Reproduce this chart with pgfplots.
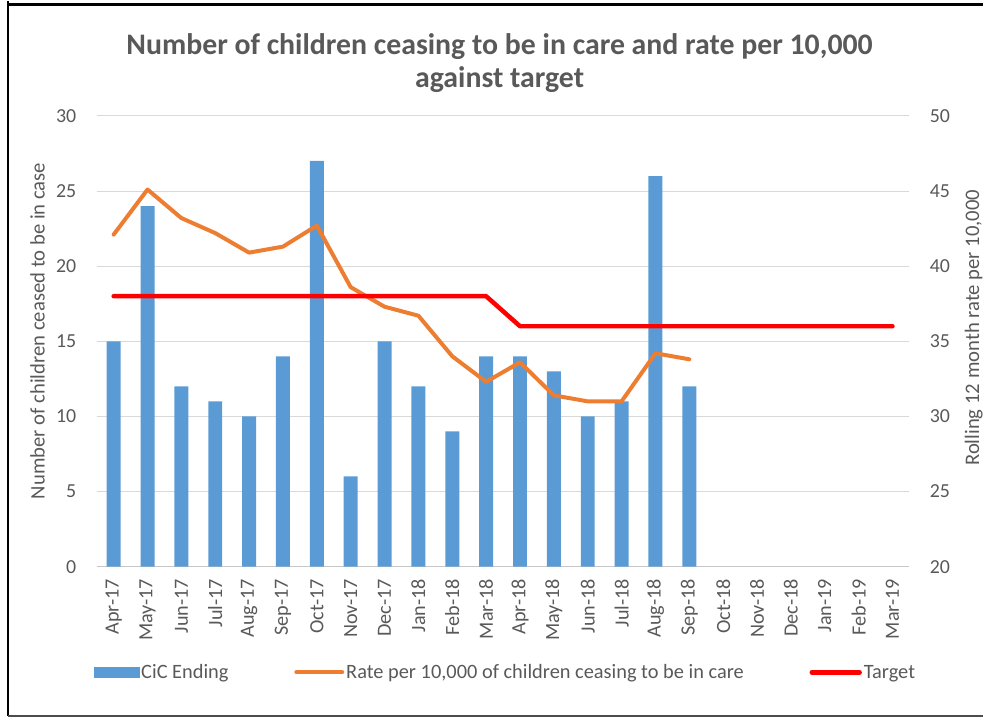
\documentclass[border=0pt]{standalone}
\usepackage{fontspec}
\setmainfont{Carlito}
\usepackage{pgfplots}
\pgfplotsset{compat=1.18}

\definecolor{barblue}{HTML}{5B9BD5}
\definecolor{rateorange}{HTML}{ED7D31}
\definecolor{txtgrey}{HTML}{595959}
\definecolor{gridgrey}{HTML}{D9D9D9}

% months Apr-17 .. Mar-19 at x = 0..23
\pgfplotstableread{
x  cic
0  15
1  24
2  12
3  11
4  10
5  14
6  27
7  6
8  15
9  12
10 9
11 14
12 14
13 13
14 10
15 11
16 26
17 12
}\cicdata

\pgfplotstableread{
x  rate
0  42.1
1  45.1
2  43.2
3  42.2
4  40.9
5  41.3
6  42.7
7  38.6
8  37.3
9  36.7
10 34.0
11 32.3
12 33.6
13 31.4
14 31.0
15 31.0
16 34.2
17 33.8
}\ratedata

\pgfplotstableread{
x  target
0  38
11 38
12 36
23 36
}\targetdata

\begin{document}
\begin{tikzpicture}[x=1bp,y=1bp,font=\fontsize{20}{24}\selectfont]
\path (0,0) rectangle (986,719);
\draw[line width=2.5bp,black] (8,719) -- (8,2) ;
\draw[line width=2.5bp,black] (8,715.5) -- (986,715.5);
\draw[line width=1.5bp,black!70] (8,2) -- (986,2);

\pgfplotsset{
  common/.style={
    scale only axis, width=815bp, height=452bp,
    at={(97bp,152bp)}, anchor=south west,
    xmin=-0.5, xmax=23.5,
    tick label style={text=txtgrey, font=\fontsize{20}{24}\selectfont},
    label style={text=txtgrey, font=\fontsize{20.8}{24}\selectfont},
    /pgf/number format/assume math mode=true,
    ytick style={draw=none},
  }
}

\begin{axis}[common,
  ymin=0, ymax=30, ytick={0,5,...,30},
  axis y line*=left, axis x line*=bottom,
  y axis line style={draw=none},
  x axis line style={gridgrey!80!gray, line width=1bp},
  ymajorgrids, grid style={gridgrey, line width=1bp},
  xtick={0,...,23},
  xticklabels={Apr-17,May-17,Jun-17,Jul-17,Aug-17,Sep-17,Oct-17,Nov-17,Dec-17,Jan-18,Feb-18,Mar-18,Apr-18,May-18,Jun-18,Jul-18,Aug-18,Sep-18,Oct-18,Nov-18,Dec-18,Jan-19,Feb-19,Mar-19},
  xticklabel style={rotate=90, anchor=east, xshift=-9bp,
    font=\fontsize{20.3}{24}\selectfont},
  x tick style={draw=none},
  extra x ticks={-0.5,0.5,...,23.5}, extra x tick labels={},
  extra x tick style={major tick length=6bp, tick align=outside,
    tick style={draw=gridgrey!80!gray, line width=1bp}, grid=none},
  ylabel={Number of children ceased to be in case},
  ylabel style={at={(axis description cs:0,0.523)}, anchor=south, yshift=48.5bp},
  yticklabel style={xshift=-17bp},
]
\addplot[ybar, bar width=14bp, fill=barblue, draw=none] table[x=x,y=cic] {\cicdata};
\end{axis}

\begin{axis}[common,
  ymin=20, ymax=50, ytick={20,25,...,50},
  axis y line*=right, axis x line=none,
  y axis line style={draw=none},
  ylabel={Rolling 12 month rate per 10,000},
  ylabel style={at={(axis description cs:1,0.53)}, anchor=north, rotate=0, yshift=-52bp},
  yticklabel style={xshift=17bp},
  legend style={at={(0.503,-0.2345)}, anchor=center, draw=none, fill=none,
    legend columns=3, text=txtgrey, font=\fontsize{20.5}{24}\selectfont,
    /tikz/every even column/.append style={column sep=64bp}},
  legend cell align=left,
]
\addlegendimage{legend image code/.code={\fill[barblue] (0bp,-5bp) rectangle (45bp,5bp);}}
\addlegendentry{CiC Ending}
\addplot[rateorange, line width=4bp, line join=round, line cap=round,
  legend image code/.code={\draw[rateorange, line width=4bp, line cap=round] (0bp,0bp) -- (46bp,0bp);}]
  table[x=x,y=rate] {\ratedata};
\addlegendentry{Rate per 10,000 of children ceasing to be in care}
\addplot[red, line width=4.5bp, line join=round, line cap=round,
  legend image code/.code={\draw[red, line width=4.5bp, line cap=round] (0bp,0bp) -- (48bp,0bp);}]
  table[x=x,y=target] {\targetdata};
\addlegendentry{Target}
\end{axis}

\node[text=txtgrey, font=\fontsize{30}{34}\bfseries\selectfont, anchor=base]
  at (501,666) {Number of children ceasing to be in care and rate per 10,000};
\node[text=txtgrey, font=\fontsize{30}{34}\bfseries\selectfont, anchor=base]
  at (501,632) {against target};
\end{tikzpicture}
\end{document}
